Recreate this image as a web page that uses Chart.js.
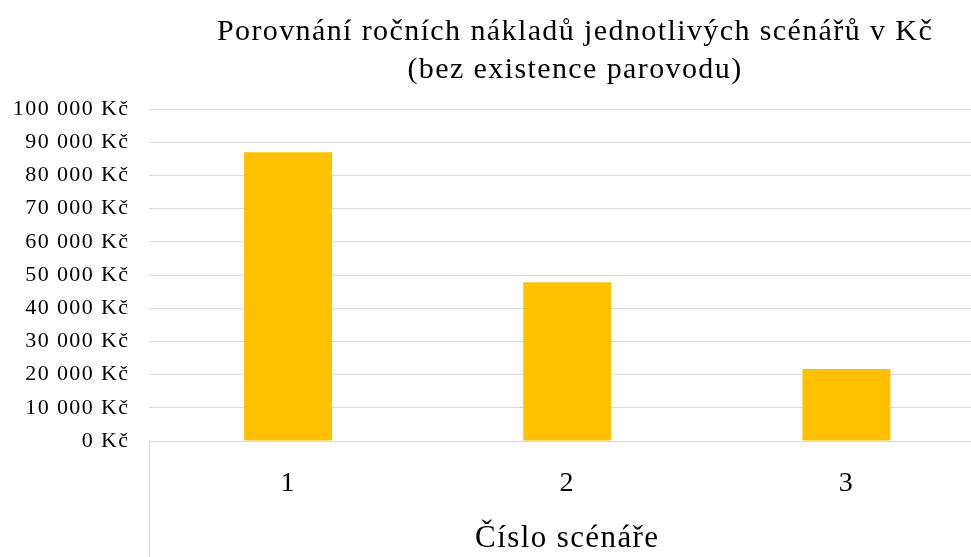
<!DOCTYPE html>
<html lang="cs">
<head>
<meta charset="utf-8">
<title>Porovnání ročních nákladů</title>
<script src="https://cdn.jsdelivr.net/npm/chart.js@4/dist/chart.umd.min.js"></script>
<style>
  html, body { margin: 0; padding: 0; background: #fff; overflow: hidden; }
  #wrap { width: 1160px; height: 557px; }
</style>
</head>
<body>
<div id="wrap"><canvas id="c" width="1160" height="557"></canvas></div>
<script>
// Scénáře a jejich roční náklady (Kč)
const categories = ['1', '2', '3'];
const annualCosts = [87000, 47800, 21700];
const titleLines = ['Porovnání ročních nákladů jednotlivých scénářů v Kč', '(bez existence parovodu)'];
const xAxisTitle = 'Číslo scénáře';
const yMin = 0;
const yMax = 100000;
const yStep = 10000;

const SERIF = '"Liberation Serif", "Times New Roman", serif';
const TEXT_SPACING = '1.4px';

function formatKc(v) {
  return String(v).replace(/\B(?=(\d{3})+(?!\d))/g, ' ') + ' Kč';
}

// Mírně prostrkané písmo pro všechny texty grafu
const textSpacing = {
  id: 'textSpacing',
  beforeUpdate(chart) { chart.ctx.letterSpacing = TEXT_SPACING; },
  beforeDraw(chart) { chart.ctx.letterSpacing = TEXT_SPACING; }
};

// Nadpis vystředěný nad celou šířkou grafu včetně pravého přesahu
const titleOffset = {
  id: 'titleOffset',
  afterLayout(chart) {
    const t = chart.titleBlock;
    if (t) { t.left = 164; }
  }
};

// Svislá čára u levého okraje pod osou X (oddělovač kategorií)
const leftDivider = {
  id: 'leftDivider',
  afterDraw(chart) {
    const { ctx, chartArea } = chart;
    const x = Math.round(chartArea.left) + 0.5;
    ctx.save();
    ctx.strokeStyle = '#d9d9d9';
    ctx.lineWidth = 1;
    ctx.beginPath();
    ctx.moveTo(x, chartArea.bottom);
    ctx.lineTo(x, chart.height);
    ctx.stroke();
    ctx.restore();
  }
};

new Chart(document.getElementById('c'), {
  type: 'bar',
  data: {
    labels: categories,
    datasets: [{
      data: annualCosts,
      backgroundColor: '#FFC000',
      borderWidth: 0,
      categoryPercentage: 1,
      barPercentage: 0.315
    }]
  },
  options: {
    responsive: false,
    animation: false,
    layout: { padding: { left: 0, right: 174, top: 0, bottom: 0 } },
    plugins: {
      legend: { display: false },
      tooltip: { enabled: false },
      title: {
        display: true,
        text: titleLines,
        color: '#000',
        font: { family: SERIF, size: 30, weight: 'normal', lineHeight: 1.267 },
        padding: { top: 13, bottom: 20 }
      }
    },
    scales: {
      x: {
        grid: { display: false, drawTicks: false },
        border: { display: false },
        ticks: {
          color: '#000',
          padding: 26,
          font: { family: SERIF, size: 28 }
        },
        title: {
          display: true,
          text: xAxisTitle,
          color: '#000',
          font: { family: SERIF, size: 31, lineHeight: 1.2 },
          padding: { top: 0, bottom: 0 }
        },
        afterFit(scale) { scale.height = 116; }
      },
      y: {
        min: yMin,
        max: yMax,
        grid: { color: '#d9d9d9', lineWidth: 1, drawTicks: false },
        border: { display: false },
        ticks: {
          stepSize: yStep,
          color: '#000',
          padding: 19,
          font: { family: SERIF, size: 22 },
          callback: (v) => formatKc(v)
        },
        afterFit(scale) { scale.width = 148.5; }
      }
    }
  },
  plugins: [textSpacing, titleOffset, leftDivider]
});
</script>
</body>
</html>
